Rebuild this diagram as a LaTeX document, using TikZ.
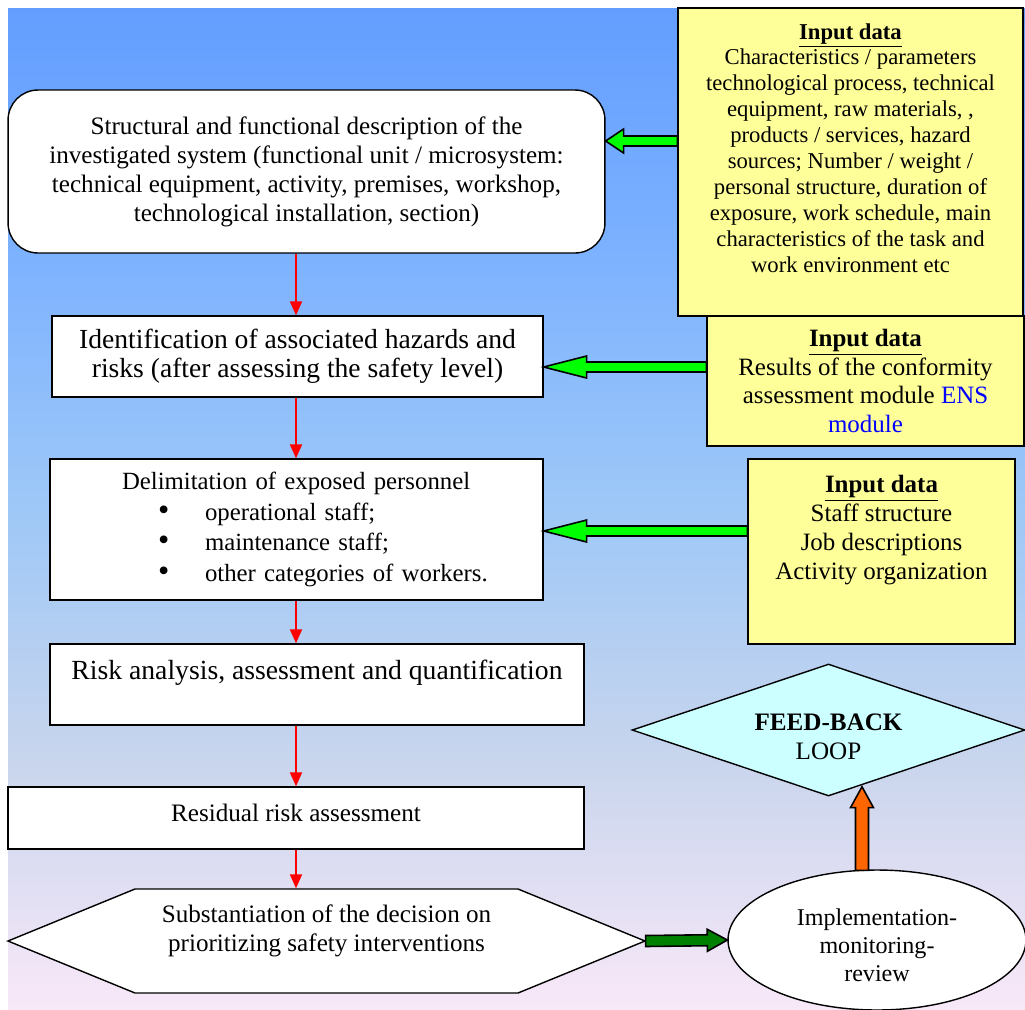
\documentclass[tikz,border=0pt]{standalone}
\usepackage{fontspec}
\setmainfont{Liberation Serif}
\usetikzlibrary{positioning, arrows.meta, shapes.geometric, calc}
\definecolor{inyellow}{RGB}{255,255,153}
\definecolor{loopcyan}{RGB}{204,255,255}
\definecolor{arrowgreen}{RGB}{0,255,0}
\definecolor{darkarrow}{RGB}{0,128,0}
\definecolor{arroworange}{RGB}{255,102,0}
\definecolor{bgtop}{RGB}{99,158,255}
\definecolor{bgupper}{RGB}{125,178,255}
\definecolor{bgmid}{RGB}{158,200,247}
\definecolor{bglower}{RGB}{200,213,237}
\definecolor{bgbottom}{RGB}{248,232,248}
\pgfdeclareverticalshading{skyshade}{100bp}{color(0bp)=(bgbottom); color(25bp)=(bgbottom); color(37.5bp)=(bglower); color(50bp)=(bgmid); color(62.5bp)=(bgupper); color(75bp)=(bgtop); color(100bp)=(bgtop)}
% outlined block arrow: style, start, end, shaft half width, head half width, head length
\newcommand{\fatarrow}[6]{%
  \path (#2) coordinate (fas) (#3) coordinate (fae) ($(fae)!#6!(fas)$) coordinate (fab);
  \draw[#1] ($(fas)!#4!90:(fae)$) -- ($(fab)!#4!90:(fae)$) -- ($(fab)!#5!90:(fae)$) -- (fae)
    -- ($(fab)!#5!-90:(fae)$) -- ($(fab)!#4!-90:(fae)$) -- ($(fas)!#4!-90:(fae)$) -- cycle;}
\newcommand{\bigdot}{\hspace*{2.16cm}\makebox[0.94cm][l]{\scalebox{1.3}{\textbullet}}}

\begin{document}
\begin{tikzpicture}[
  x=0.02cm, y=-0.02cm,
  box/.style={draw, line width=0.8pt, fill=white, align=center, inner sep=0pt, font=\fontsize{14.3pt}{16.5pt}\selectfont},
  inbox/.style={draw, line width=0.8pt, fill=inyellow, align=center, inner sep=0pt},
  flow/.style={draw=red, line width=1.1pt, -{Triangle[length=0.28cm, width=0.24cm]}},
  fat/.style={draw, line width=0.9pt, line join=miter},
]
\useasboundingbox (0,0) rectangle (1025,1009);
\shade[shading=skyshade] (8,8) rectangle (1025,1009);

% main flow
\node[box, rounded corners=0.6cm, minimum width=11.94cm, minimum height=3.26cm] (sysdesc) at (306.5,171.5)
  {Structural and functional description of the\\investigated system (functional unit / microsystem:\\technical equipment, activity, premises, workshop,\\technological installation, section)};
\node[box, minimum width=9.82cm, minimum height=1.62cm, font=\fontsize{15.7pt}{16.6pt}\selectfont] (hazards) at (297.5,356.5)
  {Identification of associated hazards and\\risks (after assessing the safety level)};
\node[box, minimum width=9.86cm, minimum height=2.82cm, text width=9.86cm, align=left, font=\fontsize{14.1pt}{17.5pt}\selectfont] (personnel) at (296.5,529.5)
  {\hspace*{1.44cm}Delimitation of exposed personnel\\
   \bigdot operational staff;\\
   \bigdot maintenance staff;\\
   \bigdot other categories of workers.};
\node[box, minimum width=10.68cm, minimum height=1.62cm, text depth=0.61cm, font=\fontsize{15.75pt}{17pt}\selectfont] (risk) at (317,684.5)
  {Risk analysis, assessment and quantification};
\node[box, minimum width=11.52cm, minimum height=1.24cm, text depth=0.2cm] (residual) at (296,818)
  {Residual risk assessment};
% hexagon outline for the decision
\draw[line width=0.8pt, fill=white] (8,941) -- (135,889) -- (518,889) -- (645,941) -- (518,993) -- (135,993) -- cycle;
\node[box, draw=none, fill=none, minimum width=12.74cm, minimum height=2.08cm, text depth=0.5cm] (decision) at (326.5,941)
  {Substantiation of the decision on\\prioritizing safety interventions};
\node[box, ellipse, minimum width=5.96cm, minimum height=2.8cm, text height=1.67cm, font=\fontsize{13.7pt}{15.9pt}\selectfont] (impl) at (877,940)
  {Implementation-\\monitoring-\\review};
\node[box, diamond, fill=loopcyan, aspect=3, minimum width=7.86cm, minimum height=2.64cm, text height=1.17cm] (feedback) at (828.5,730)
  {\textbf{FEED-BACK}\\LOOP};

% input data
\node[inbox, minimum width=6.9cm, minimum height=6.16cm, text depth=0.57cm, font=\fontsize{12.9pt}{14.75pt}\selectfont] (inA) at (850.5,162)
  {\underline{\textbf{Input data}}\\Characteristics / parameters\\technological process, technical\\equipment, raw materials, ,\\products / services, hazard\\sources; Number / weight /\\personal structure, duration of\\exposure, work schedule, main\\characteristics of the task and\\work environment etc};
\node[inbox, minimum width=6.34cm, minimum height=2.6cm, font=\fontsize{14.2pt}{16.4pt}\selectfont] (inB) at (865.5,381)
  {\underline{\textbf{Input data}}\\Results of the conformity\\assessment module \textcolor{blue}{ENS}\\\textcolor{blue}{module}};
\node[inbox, minimum width=5.34cm, minimum height=3.7cm, text depth=0.97cm, font=\fontsize{14.2pt}{16.4pt}\selectfont] (inC) at (881.5,551.5)
  {\underline{\textbf{Input data}}\\Staff structure\\Job descriptions\\Activity organization};

% connectors
\coordinate (axis) at (296,0);
\draw[flow] (sysdesc.south -| axis) -- (hazards.north -| axis);
\draw[flow] (hazards.south -| axis) -- (personnel.north -| axis);
\draw[flow] (personnel.south -| axis) -- (risk.north -| axis);
\draw[flow] (risk.south -| axis) -- (residual.north -| axis);
\draw[flow] (residual.south -| axis) -- (decision.north -| axis);

\fatarrow{fat, fill=arrowgreen}{$(inA.west)+(0,-21)$}{sysdesc.east|-fas}{0.1cm}{0.24cm}{0.36cm}
\fatarrow{fat, fill=arrowgreen}{$(inB.west)+(0,-14)$}{hazards.east|-fas}{0.1cm}{0.22cm}{0.86cm}
\fatarrow{fat, fill=arrowgreen}{$(inC.west)+(0,-20.5)$}{personnel.east|-fas}{0.1cm}{0.22cm}{0.86cm}
\fatarrow{fat, fill=darkarrow}{decision.east}{impl.west}{0.11cm}{0.22cm}{0.4cm}
\fatarrow{fat, fill=arroworange}{$(impl.north)+(-15,1)$}{$(feedback.south)+(33.5,-10)$}{0.13cm}{0.23cm}{0.42cm}
\end{tikzpicture}
\end{document}
